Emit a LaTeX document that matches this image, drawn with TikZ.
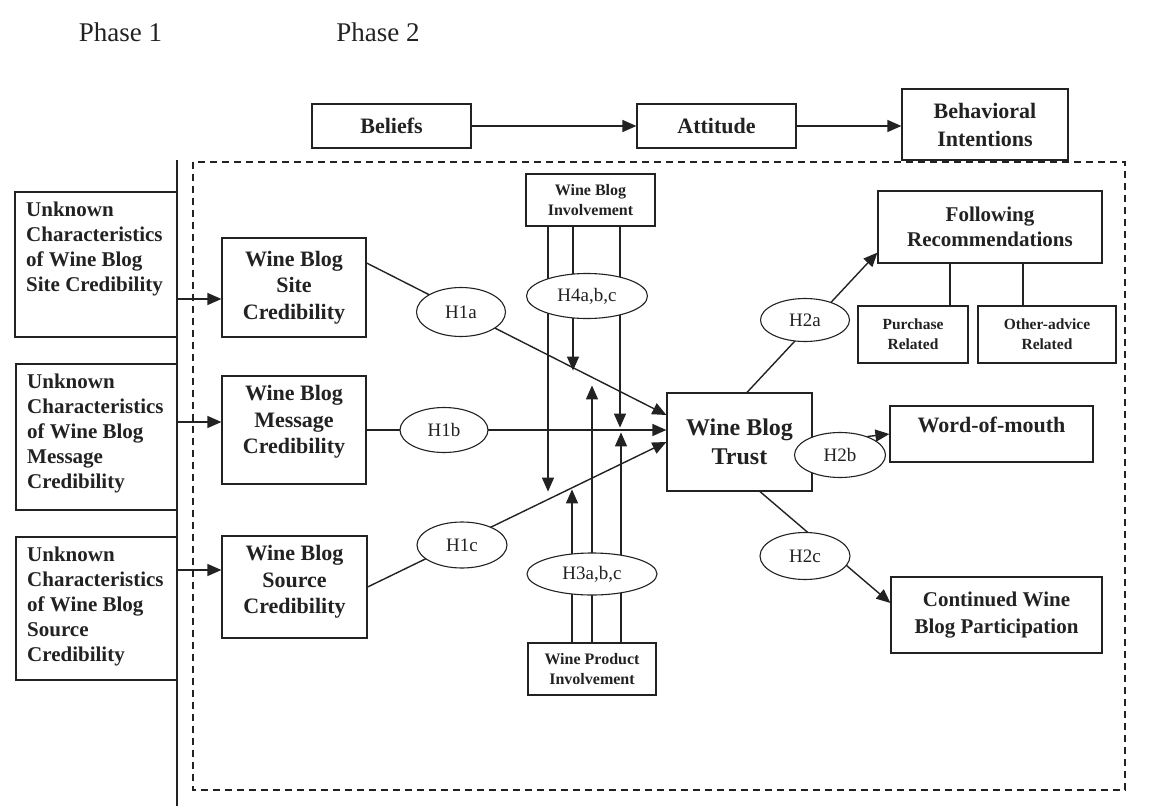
\documentclass[tikz,border=0pt]{standalone}
\usepackage{fontspec}
\setmainfont{Liberation Serif}
\usetikzlibrary{arrows.meta,shapes.geometric}
\pgfdeclarelayer{bg}
\pgfsetlayers{bg,main}
\definecolor{ink}{RGB}{34,34,34}
\tikzset{
  bx/.style={draw=ink, line width=1.2pt, inner sep=0pt, align=center, text=ink},
  el/.style={ellipse, draw=ink, line width=1.1pt, fill=white, inner sep=0pt, text=ink,
             font=\fontsize{19}{22}\selectfont},
  ln/.style={draw=ink, line width=1.4pt},
  ar/.style={ln, -{Triangle[length=14pt,width=12pt]}},
  ftop/.style={font=\fontsize{22}{28}\selectfont\bfseries},
  fleft/.style={font=\fontsize{21}{25}\selectfont\bfseries},
  fmid/.style={font=\fontsize{22}{26.5}\selectfont\bfseries},
  fbig/.style={font=\fontsize{24}{29}\selectfont\bfseries},
  fsmall/.style={font=\fontsize{15.5}{20}\selectfont\bfseries},
  finv/.style={font=\fontsize{16}{19.5}\selectfont\bfseries},
  ltext/.style={anchor=north west, align=left, inner sep=0pt, text=ink, fleft},
}
\begin{document}
\begin{tikzpicture}[x=1pt,y=-1pt]
\useasboundingbox (0,0) rectangle (1149,806);

% phase labels
\node[text=ink, font=\fontsize{27}{30}\selectfont] (ph1) at (120.5,32) {Phase 1};
\node[text=ink, font=\fontsize{27}{30}\selectfont] (ph2) at (378,32) {Phase 2};

% top row
\node[bx, ftop, minimum width=159pt, minimum height=44pt] (bel) at (391.5,126) {Beliefs};
\node[bx, ftop, minimum width=159pt, minimum height=44pt] (att) at (716.5,126) {Attitude};
\node[bx, ftop, minimum width=166pt, minimum height=71pt] (beh) at (985,124.5) {Behavioral\\Intentions};

% dashed frame and phase divider
\coordinate (dtl) at (193,162);
\coordinate (dbr) at (1125,790);
\draw[ink, line width=1.2pt, dash pattern=on 7pt off 5pt] (dtl) rectangle (dbr);
\coordinate (vt) at (177,160);
\coordinate (vb) at (177,806);

% left boxes
\node[bx, minimum width=162pt, minimum height=145pt] (l1) at (96,264.5) {};
\node[bx, minimum width=161pt, minimum height=146pt] (l2) at (96.5,437) {};
\node[bx, minimum width=161pt, minimum height=143pt] (l3) at (96.5,608.5) {};
\node[ltext] (l1t) at (26,202) {Unknown\\Characteristics\\of Wine Blog\\Site Credibility};
\node[ltext] (l2t) at (27,374) {Unknown\\Characteristics\\of Wine Blog\\Message\\Credibility};
\node[ltext] (l3t) at (27,547) {Unknown\\Characteristics\\of Wine Blog\\Source\\Credibility};

% middle boxes
\node[bx, fmid, minimum width=144pt, minimum height=99pt] (site) at (294,287.5) {Wine Blog\\Site\\Credibility};
\node[bx, minimum width=144pt, minimum height=108pt] (msg) at (294,430) {};
\node[fmid, align=center, text=ink, inner sep=0pt] (msgt) at (294,422) {Wine Blog\\Message\\Credibility};
\node[bx, minimum width=145pt, minimum height=102pt] (src) at (294.5,587) {};
\node[fmid, align=center, text=ink, inner sep=0pt] (srct) at (294.5,582) {Wine Blog\\Source\\Credibility};

% involvement boxes
\node[bx, finv, minimum width=129pt, minimum height=52pt] (inv) at (590.5,200) {Wine Blog\\Involvement};
\node[bx, finv, minimum width=128pt, minimum height=52pt] (prod) at (592,669) {Wine Product\\Involvement};

% trust
\node[bx, fbig, minimum width=145pt, minimum height=98pt] (trust) at (739.5,442) {Wine Blog\\Trust};

% outcomes
\node[bx, fleft, minimum width=224pt, minimum height=72pt] (fr) at (990,227) {Following\\Recommendations};
\node[bx, fsmall, minimum width=110pt, minimum height=57pt] (pur) at (913,334.5) {Purchase\\Related};
\node[bx, fsmall, minimum width=138pt, minimum height=57pt] (oth) at (1047,334.5) {Other-advice\\Related};
\node[bx, minimum width=203pt, minimum height=56pt] (wom) at (991.5,434) {};
\node[text=ink, fmid, inner sep=0pt] (womt) at (991.5,425) {Word-of-mouth};
\node[bx, font=\fontsize{21}{27}\selectfont\bfseries, minimum width=211pt, minimum height=76pt] (cont) at (996.5,615) {Continued Wine\\Blog Participation};

% hypothesis ellipses
\node[el, minimum width=89pt, minimum height=49pt] (h1a) at (461,312) {H1a};
\node[el, minimum width=88pt, minimum height=45pt] (h1b) at (444,430) {H1b};
\node[el, minimum width=90pt, minimum height=46pt] (h1c) at (462,545) {H1c};
\node[el, minimum width=121pt, minimum height=45pt] (h4) at (587,296) {H4a,b,c};
\node[el, minimum width=130pt, minimum height=42pt] (h3) at (592,574) {H3a,b,c};
\node[el, minimum width=89pt, minimum height=43pt] (h2a) at (805,320) {H2a};
\node[el, minimum width=91pt, minimum height=45pt] (h2b) at (840,455) {H2b};
\node[el, minimum width=90pt, minimum height=47pt] (h2c) at (805,556) {H2c};

\begin{pgfonlayer}{bg}
  % top chain
  \draw[ar] (bel.east) -- (att.west);
  \draw[ar] (att.east) -- (beh.west |- att.east);
  % divider
  \draw[ln] (vt) -- (vb);
  % phase 1 -> phase 2
  \draw[ar] ([yshift=-11.5pt]site.west -| vt) -- ([yshift=-11.5pt]site.west);
  \draw[ar] ([yshift=8pt]msg.west -| vt) -- ([yshift=8pt]msg.west);
  \draw[ar] ([yshift=17pt]src.west -| vt) -- ([yshift=17pt]src.west);
  % H1 paths
  \draw[ar] ([yshift=24.5pt]site.east) -- ([yshift=27pt]trust.west);
  \draw[ar] (msg.east) -- ([yshift=12pt]trust.west);
  \draw[ar] (src.east) -- (trust.west);
  % moderators from wine blog involvement
  \draw[ar] ([xshift=-42.5pt]inv.south) -- ++(0,265);
  \draw[ar] ([xshift=-17.5pt]inv.south) -- ++(0,144);
  \draw[ar] ([xshift=29.5pt]inv.south) -- ++(0,201);
  % moderators from wine product involvement
  \draw[ar] ([xshift=-20pt]prod.north) -- ++(0,-153);
  \draw[ar] (prod.north) -- ++(0,-257);
  \draw[ar] ([xshift=29pt]prod.north) -- ++(0,-210);
  % H2 paths
  \draw[ar] ([xshift=7.5pt]trust.north) -- ([yshift=11pt]fr.south west);
  \draw[ln] ([xshift=-40pt]fr.south) -- ([xshift=-40pt]fr.south |- pur.north);
  \draw[ln] ([xshift=33pt]fr.south) -- ([xshift=33pt]fr.south |- oth.north);
  \draw[ar] (h2b.34) -- (wom.west);
  \draw[ar] ([xshift=20.5pt]trust.south) -- ([yshift=12pt]cont.west);
\end{pgfonlayer}
\end{tikzpicture}
\end{document}
